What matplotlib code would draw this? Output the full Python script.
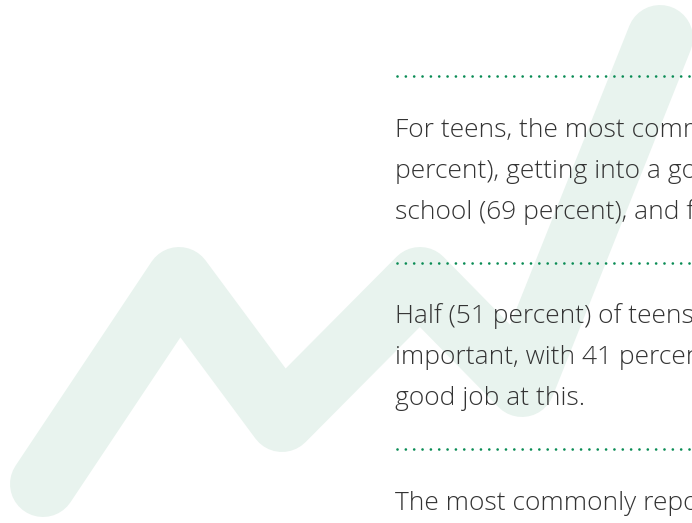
import matplotlib.pyplot as plt

# decorative trend line behind the text (pixel coordinates)
trend_x = [43, 179, 282, 420, 522, 660]
trend_y = [484, 280, 419, 280, 384, 38]

# dotted separators
sep_y = [76, 262.5, 448.5]
sep_x0 = 395

# paragraphs as they show in the crop: (first baseline, lines)
para1 = ["For teens, the most common",
         "percent), getting into a good",
         "school (69 percent), and financial"]
para2 = ["Half (51 percent) of teens say",
         "important, with 41 percent",
         "good job at this."]
para3 = ["The most commonly reported"]
paragraphs = [(137, para1), (323, para2), (510, para3)]
line_gap = 41

W, H = 692, 523
fig = plt.figure(figsize=(W / 100, H / 100), dpi=100)
ax = fig.add_axes([0, 0, 1, 1])
ax.set_xlim(0, W)
ax.set_ylim(H, 0)
ax.axis('off')

px = 72 / 100  # points per pixel

ax.plot(trend_x, trend_y, color='#e8f3ee', lw=66 * px,
        solid_capstyle='round', solid_joinstyle='round', zorder=1)

for y in sep_y:
    ax.plot([sep_x0 + 1.5, W + 10], [y, y], color='#0a8c55', lw=2.7 * px,
            dashes=(0.01, 3.08), dash_capstyle='round', zorder=2)

for y0, lines in paragraphs:
    for i, line in enumerate(lines):
        ax.text(sep_x0, y0 + i * line_gap, line, fontsize=19.0, color='#333333',
                family='Open Sans', fontweight='light', va='baseline',
                ha='left', zorder=3)

fig.savefig('out.png', dpi=100)
